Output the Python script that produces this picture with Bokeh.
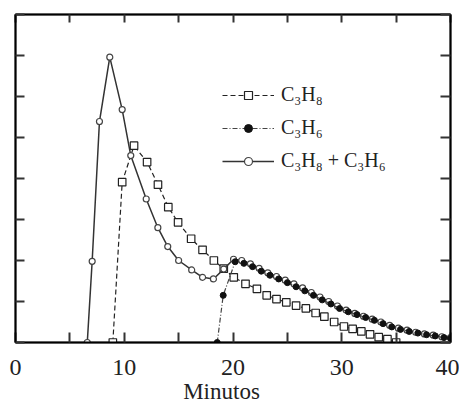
from bokeh.plotting import figure
from bokeh.models import FixedTicker, LinearAxis, Range1d, Legend, LegendItem
from bokeh.embed import file_html
from bokeh.resources import INLINE

# --- data ---
c3h8_x = [8.95, 9.81, 10.9, 12.1, 13.1, 14.05, 14.95, 16.15, 17.2, 18.24, 19.15, 20.07,
          21.15, 22.2, 23.1, 24.0, 24.9, 25.8, 26.7, 27.6, 28.4, 29.3, 30.2, 31.0,
          31.8, 32.6, 33.4, 34.2, 35.0]
c3h8_y = [0.0, 3.91, 4.8, 4.4, 3.85, 3.3, 2.93, 2.53, 2.26, 2.0, 1.8, 1.59,
          1.43, 1.31, 1.15, 1.06, 0.98, 0.9, 0.83, 0.72, 0.63, 0.5, 0.39, 0.33,
          0.27, 0.2, 0.13, 0.08, 0.0]

c3h6_x = [18.55, 19.1, 20.2, 21.0, 21.8, 22.6, 23.4, 24.2, 25.0, 25.8, 26.6, 27.4,
          28.2, 29.0, 29.8, 30.6, 31.4, 32.2, 33.0, 33.8, 34.6, 35.4, 36.2, 37.0,
          37.8, 38.6, 39.4, 40.0]
c3h6_y = [0.0, 1.15, 1.97, 1.93, 1.85, 1.74, 1.64, 1.55, 1.46, 1.36, 1.26, 1.15,
          1.04, 0.94, 0.83, 0.75, 0.68, 0.61, 0.54, 0.46, 0.38, 0.32, 0.27, 0.23,
          0.19, 0.16, 0.12, 0.1]

mix_x = [6.6, 7.05, 7.72, 8.67, 9.81, 10.6, 12.02, 13.09, 14.0, 15.0, 16.2, 17.2,
         18.2, 19.15, 20.05, 20.8, 21.6, 22.4, 23.2, 24.0, 24.8, 25.6, 26.4, 27.2,
         28.0, 28.8, 29.6, 30.4, 31.2, 32.0, 32.8, 33.6, 34.4, 35.2, 36.0, 36.8,
         37.6, 38.4, 39.2, 40.0]
mix_y = [0.0, 1.98, 5.39, 6.96, 5.68, 4.56, 3.5, 2.8, 2.34, 2.0, 1.77, 1.59,
         1.55, 1.79, 2.03, 2.0, 1.92, 1.81, 1.7, 1.61, 1.52, 1.43, 1.33, 1.22,
         1.11, 1.0, 0.89, 0.79, 0.71, 0.64, 0.57, 0.5, 0.42, 0.35, 0.3, 0.25,
         0.21, 0.18, 0.14, 0.12]

x_ticks = [0, 5, 10, 15, 20, 25, 30, 35, 40]
x_labels = {5: "", 15: "", 25: "", 35: ""}
y_ticks = [0, 1, 2, 3, 4, 5, 6, 7, 8]

SERIF = "Liberation Serif"

p = figure(frame_width=435, frame_height=328,
           x_range=Range1d(0, 40), y_range=Range1d(0, 8),
           output_backend="svg", toolbar_location=None,
           min_border_left=15, min_border_top=14, min_border_right=9,
           min_border_bottom=62, x_axis_location=None, y_axis_location=None)
p.xgrid.visible = False
p.ygrid.visible = False
p.outline_line_color = "black"
p.outline_line_width = 1.5
p.background_fill_color = "white"
p.border_fill_color = "white"


def style_axis(ax, ticks, labels=True, tick_len=8):
    ax.ticker = FixedTicker(ticks=ticks)
    ax.major_tick_in = tick_len
    ax.major_tick_out = 0
    ax.minor_tick_in = 0
    ax.minor_tick_out = 0
    ax.major_tick_line_color = "#333"
    ax.major_tick_line_width = 2
    ax.axis_line_color = "black"
    ax.axis_line_width = 2
    if not labels:
        ax.major_label_overrides = {t: "" for t in ticks}
        ax.major_label_standoff = 0


xb = LinearAxis()
style_axis(xb, x_ticks, labels=True, tick_len=10)
xb.major_label_overrides = x_labels
xb.major_label_text_font = SERIF
xb.major_label_text_font_size = "24px"
xb.major_label_text_color = "#222"
xb.major_label_standoff = 17
xb.axis_label = "Minutos\u00a0\u00a0\u00a0\u00a0"
xb.axis_label_text_font = SERIF
xb.axis_label_text_font_size = "23px"
xb.axis_label_text_font_style = "normal"
xb.axis_label_text_color = "#222"
xb.axis_label_standoff = 1
p.add_layout(xb, "below")

xt = LinearAxis()
style_axis(xt, x_ticks, labels=False, tick_len=8)
p.add_layout(xt, "above")

yl = LinearAxis()
style_axis(yl, y_ticks, labels=False, tick_len=9)
p.add_layout(yl, "left")

yr = LinearAxis()
style_axis(yr, y_ticks, labels=False, tick_len=10)
p.add_layout(yr, "right")

# --- series ---
l8 = p.line(c3h8_x, c3h8_y, line_color="#222", line_width=1.2, line_dash="5 3")
s8 = p.scatter(c3h8_x, c3h8_y, marker="square", size=7.5, fill_color="white",
               line_color="#222", line_width=1.2)

lm = p.line(mix_x, mix_y, line_color="#333", line_width=1.5)
sm = p.scatter(mix_x, mix_y, marker="circle", size=6, fill_color="white",
               line_color="#444", line_width=1.2)

l6 = p.line(c3h6_x, c3h6_y, line_color="#444", line_width=1.2, line_dash="5 2 1 2")
s6 = p.scatter(c3h6_x, c3h6_y, marker="circle", size=6, fill_color="#111",
               line_color="#111")

legend = Legend(items=[
    LegendItem(label="C₃H₈", renderers=[l8, s8]),
    LegendItem(label="C₃H₆", renderers=[l6, s6]),
    LegendItem(label="C₃H₈ + C₃H₆", renderers=[lm, sm]),
], location=(207, 170))
legend.border_line_alpha = 0
legend.background_fill_alpha = 0
legend.padding = 0
legend.margin = 0
legend.spacing = 10
legend.glyph_width = 52
legend.glyph_height = 20
legend.label_height = 20
legend.label_standoff = 7
legend.label_text_font = SERIF
legend.label_text_font_size = "20px"
legend.label_text_color = "#222"
p.add_layout(legend)

open("out.html", "w").write(file_html(p, INLINE))
